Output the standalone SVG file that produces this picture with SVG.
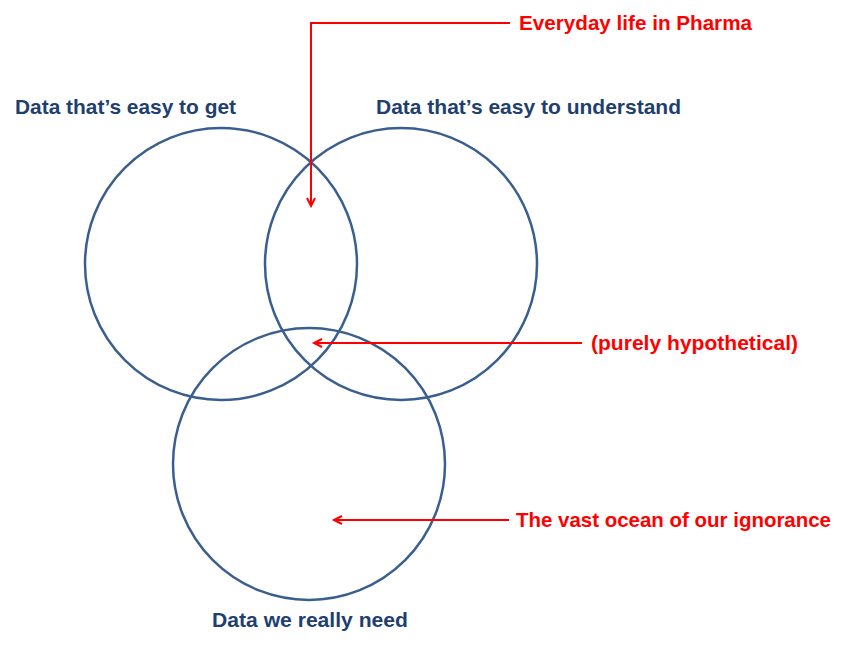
<svg xmlns="http://www.w3.org/2000/svg" width="848" height="648" viewBox="0 0 848 648">
<style>
.c{fill:none;stroke:#3A5F8F;stroke-width:2.5}
.b{font-family:"Liberation Sans",Arial,sans-serif;font-weight:bold;font-size:20.5px;fill:#1F3F6F}
.r{font-family:"Liberation Sans",Arial,sans-serif;font-weight:bold;font-size:20.5px;fill:#FF0000}
.a{fill:none;stroke:#FF0000;stroke-width:2;marker-end:url(#ah)}
</style>
<defs>
<marker id="ah" viewBox="0 0 10 10" refX="9" refY="5" markerWidth="10" markerHeight="10" orient="auto" markerUnits="userSpaceOnUse" overflow="visible">
<path d="M1,1 L9,5 L1,9" fill="none" stroke="#FF0000" stroke-width="2"/>
</marker>
</defs>
<rect width="848" height="648" fill="#fff"/>
<g id="easy-to-get"><circle class="c" cx="221" cy="264" r="136"/><text class="b" x="15" y="114" textLength="221" lengthAdjust="spacingAndGlyphs">Data that’s easy to get</text></g>
<g id="easy-to-understand"><circle class="c" cx="401" cy="264" r="136"/><text class="b" x="376" y="114" textLength="305" lengthAdjust="spacingAndGlyphs">Data that’s easy to understand</text></g>
<g id="really-need"><circle class="c" cx="309" cy="464" r="136"/><text class="b" x="212" y="627" textLength="196" lengthAdjust="spacingAndGlyphs">Data we really need</text></g>
<g id="label-pharma"><text class="r" x="519" y="30" textLength="233" lengthAdjust="spacingAndGlyphs">Everyday life in Pharma</text></g>
<g id="label-hypothetical"><text class="r" x="591" y="350" textLength="207" lengthAdjust="spacingAndGlyphs">(purely hypothetical)</text></g>
<g id="label-ocean"><text class="r" x="516" y="527" textLength="315" lengthAdjust="spacingAndGlyphs">The vast ocean of our ignorance</text></g>
<g id="connectors">
<path class="a" d="M510,23 H311 V206"/>
<path class="a" d="M582,343 H314"/>
<path class="a" d="M509,520 H334"/>
</g>
</svg>
